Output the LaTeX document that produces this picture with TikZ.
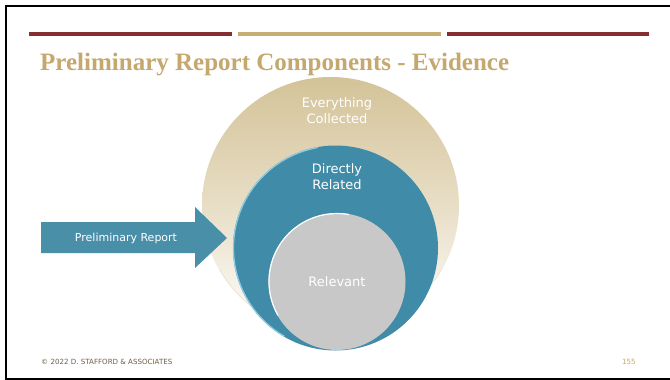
\documentclass[tikz,border=0pt]{standalone}
\usepackage{fontspec}
\setmainfont{Liberation Serif}
\setsansfont{DejaVu Sans}
\newfontfamily\bodyfont{DejaVu Sans}
\definecolor{barred}{RGB}{134,46,50}
\definecolor{bartan}{RGB}{199,174,114}
\definecolor{titletan}{RGB}{196,168,110}
\definecolor{teal}{RGB}{64,139,168}
\definecolor{tealrim}{RGB}{140,205,228}
\definecolor{arrowteal}{RGB}{74,143,168}
\definecolor{outertan}{RGB}{212,195,152}
\definecolor{greyfill}{RGB}{200,200,200}
\definecolor{footbrown}{RGB}{110,95,70}
\tikzset{
  bar/.style={line width=4pt},
  lbl/.style={text=white, font=\bodyfont\fontsize{13}{16}\selectfont, align=center, inner sep=0pt},
}
\begin{document}
\begin{tikzpicture}[x=1pt,y=-1pt]
\useasboundingbox (0,0) rectangle (670,380);
\fill[white] (0,0) rectangle (670,380);
% frame
\draw[line width=2pt] (680,6) -- (5.5,6) -- (5.5,378.5) -- (680,378.5);
% bars
\draw[bar, barred] (29,33.5) -- (232,33.5);
\draw[bar, bartan] (238,33.5) -- (441,33.5);
\draw[bar, barred] (447,33.5) -- (649,33.5);
% title
\node[anchor=base west, inner sep=0pt, text=titletan, font=\bfseries\fontsize{25}{29}\selectfont] (title) at (40,70) {Preliminary Report Components - Evidence};
% outer circle
\shade[top color=outertan, bottom color=white, middle color={rgb,255:red,232;green,222;blue,198}] (330.5,205.5) circle[radius=128.5];
\draw[white!60!outertan, line width=1pt] (330.5,205.5) ++(150:128) arc[start angle=150, end angle=30, radius=128];
% middle circle
\fill[teal] (335.5,248) circle[radius=102.5];
\draw[tealrim, line width=1.2pt] (335.5,248) ++(120:102) arc[start angle=120, end angle=260, radius=102];
% inner circle
\fill[greyfill] (337,281.5) circle[radius=68.5];
\draw[white, line width=1.2pt] (337,281.5) ++(150:68) arc[start angle=150, end angle=280, radius=68];
% labels
\node[lbl] (ev) at (337,111) {Everything\\Collected};
\node[lbl] (dr) at (337,177) {Directly\\Related};
\node[lbl] (rel) at (337,282) {Relevant};
% arrow
\fill[arrowteal] (41,222) -- (195,222) -- (195,207) -- (227,238) -- (195,268) -- (195,253) -- (41,253) -- cycle;
\node[text=white, font=\bodyfont\fontsize{11}{13}\selectfont, inner sep=0pt] (pr) at (126,238) {Preliminary Report};
% footer
\node[anchor=west, inner sep=0pt, text=footbrown, font=\bodyfont\fontsize{7.1}{8}\selectfont] (foot) at (41,361.5) {© 2022 D. STAFFORD \& ASSOCIATES};
\node[anchor=east, inner sep=0pt, text=titletan, font=\bodyfont\fontsize{7.2}{8}\selectfont] (pg) at (636,361.5) {155};
\end{tikzpicture}
\end{document}
